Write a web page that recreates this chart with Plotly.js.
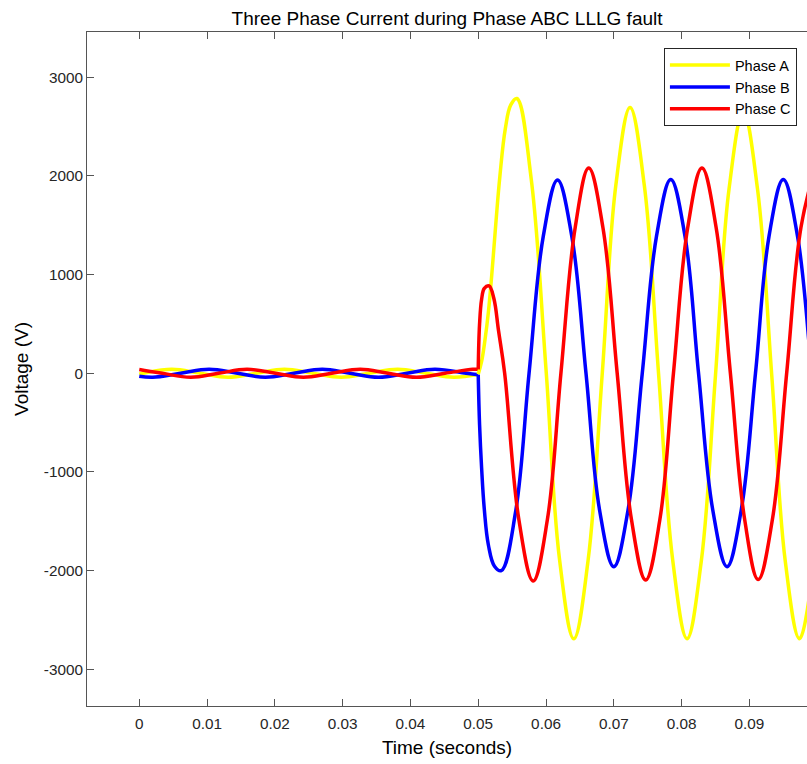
<!DOCTYPE html>
<html>
<head>
<meta charset="utf-8">
<script src="https://cdn.plot.ly/plotly-3.0.1.min.js"></script>
<style>html,body{margin:0;padding:0;background:#fff;}#chart{width:807px;height:764px;}</style>
</head>
<body>
<div id="chart"></div>
<script>
// Fault instant (s)
const faultTime = 0.05;

// Phase A (yellow): time (s) and value
const tA = [0,0.0006,0.0048,0.0090,0.0131,0.0173,0.0214,0.0256,0.0298,0.0339,0.0381,0.0423,0.0464,0.0500,
  0.0505,0.0510,0.0515,0.0520,0.0526,0.0532,0.0540,0.0548,0.0557,0.0578,0.0600,0.0620,0.0641,0.0662,0.0683,0.0703,0.0724,
  0.0745,0.0766,0.0787,0.0808,0.0829,0.0850,0.0870,0.0891,0.0912,0.0933,0.0953,0.0974,0.0995];
const vA = [-9,0,40,0,-40,0,40,0,-40,0,40,0,-40,-10,
  120,340,620,1000,1520,2000,2480,2720,2785,1980,40,-1890,-2690,-1900,0,1905,2695,
  1905,0,-1900,-2690,-1908,-20,1868,2650,1868,-20,-1908,-2690,-1900];

// Phase B (blue)
const tB = [0,0.0020,0.0061,0.0103,0.0145,0.0186,0.0228,0.0270,0.0311,0.0353,0.0395,0.0436,0.0482,0.0500,
  0.0502,0.0505,0.0509,0.0515,0.0524,0.0534,0.0555,0.0575,0.0596,0.0617,0.0638,0.0659,0.0679,0.0700,0.0721,
  0.0742,0.0763,0.0784,0.0805,0.0825,0.0846,0.0867,0.0888,0.0909,0.0929,0.0950,0.0971,0.0992,0.1000];
const vB = [-29,-40,0,40,0,-40,0,40,0,-40,0,40,0,-15,
  -520,-960,-1380,-1740,-1955,-2000,-1410,0,1390,1960,1390,0,-1385,-1960,-1385,
  0,1390,1965,1390,0,-1385,-1960,-1385,0,1390,1965,1390,0,-520];

// Phase C (red)
const tC = [0,0.0034,0.0076,0.0117,0.0159,0.0201,0.0242,0.0284,0.0326,0.0367,0.0409,0.0451,0.0492,0.0500,
  0.0502,0.0505,0.0509,0.0516,0.0523,0.0530,0.0539,0.0560,0.0581,0.0602,0.0622,0.0643,0.0663,0.0684,0.0705,
  0.0726,0.0747,0.0768,0.0788,0.0809,0.0830,0.0851,0.0872,0.0893,0.0913,0.0934,0.0955,0.0976,0.0997];
const vC = [38,0,-40,0,40,0,-40,0,40,0,-40,0,40,40,
  500,750,860,885,760,430,0,-1485,-2105,-1485,0,1475,2080,1475,0,
  -1480,-2095,-1480,0,1475,2080,1475,0,-1480,-2090,-1480,0,1475,2080];

const seriesNames = ['Phase A','Phase B','Phase C'];
const seriesColors = ['#FFFF00','#0000FF','#FF0000'];

const xTickVals = [0,0.01,0.02,0.03,0.04,0.05,0.06,0.07,0.08,0.09];
const xTickText = ['0','0.01','0.02','0.03','0.04','0.05','0.06','0.07','0.08','0.09'];
const yTickVals = [-3000,-2000,-1000,0,1000,2000,3000];
const yTickText = ['-3000','-2000','-1000','0','1000','2000','3000'];

const T = [tA,tB,tC], V = [vA,vB,vC];
const traces = [];
T.forEach((t,i)=>{
  const pre = t.map((x,k)=>k).filter(k=>t[k] <= faultTime);
  const post = t.map((x,k)=>k).filter(k=>t[k] >= faultTime);
  const line = {color:seriesColors[i], width:3.5, shape:'spline', smoothing:1.1};
  traces.push({x: pre.map(k=>t[k]), y: pre.map(k=>V[i][k]), type:'scatter', mode:'lines',
    name: seriesNames[i], legendgroup: seriesNames[i], line});
  traces.push({x: post.map(k=>t[k]), y: post.map(k=>V[i][k]), type:'scatter', mode:'lines',
    name: seriesNames[i], legendgroup: seriesNames[i], showlegend:false, line});
});
const ordered = [traces[0],traces[2],traces[4],traces[1],traces[3],traces[5]];

const axisColor = '#555555';
const FONT = '"Liberation Sans", Arial, Helvetica, sans-serif';
const layout = {
  width:807, height:764,
  margin:{l:87, r:0, t:32, b:58},
  paper_bgcolor:'#fff', plot_bgcolor:'#fff',
  font:{family:FONT, color:'#262626', size:15},
  title:{text:'Three Phase Current during Phase ABC LLLG fault', font:{family:FONT, size:19, color:'#000'}, x:0.554, xanchor:'center', y:0.976, yanchor:'middle'},
  xaxis:{range:[-0.00771,0.0985], tickvals:xTickVals, ticktext:xTickText, ticks:'inside', ticklen:7, tickcolor:axisColor,
    showline:true, linecolor:axisColor, linewidth:1, mirror:'ticks', showgrid:false, zeroline:false,
    tickfont:{size:15.3, color:'#262626'}, ticklabelstandoff:4,
    title:{text:'Time (seconds)', font:{size:19, color:'#000'}, standoff:9}},
  yaxis:{range:[-3372,3459], tickvals:yTickVals, ticktext:yTickText, ticks:'inside', ticklen:7, tickcolor:axisColor,
    showline:true, linecolor:axisColor, linewidth:1, mirror:false, showgrid:false, zeroline:false,
    tickfont:{size:15.3, color:'#262626'},
    title:{text:'Voltage (V)', font:{size:19, color:'#000'}, standoff:10}},
  legend:{x:0.986, xanchor:'right', y:0.976, yanchor:'top', bgcolor:'#fff', bordercolor:'#262626', borderwidth:1,
    font:{size:14.5, color:'#000'}, itemwidth:60, tracegroupgap:0},
  showlegend:true
};
Plotly.newPlot('chart', ordered, layout, {displayModeBar:false, staticPlot:true});
</script>
</body>
</html>
